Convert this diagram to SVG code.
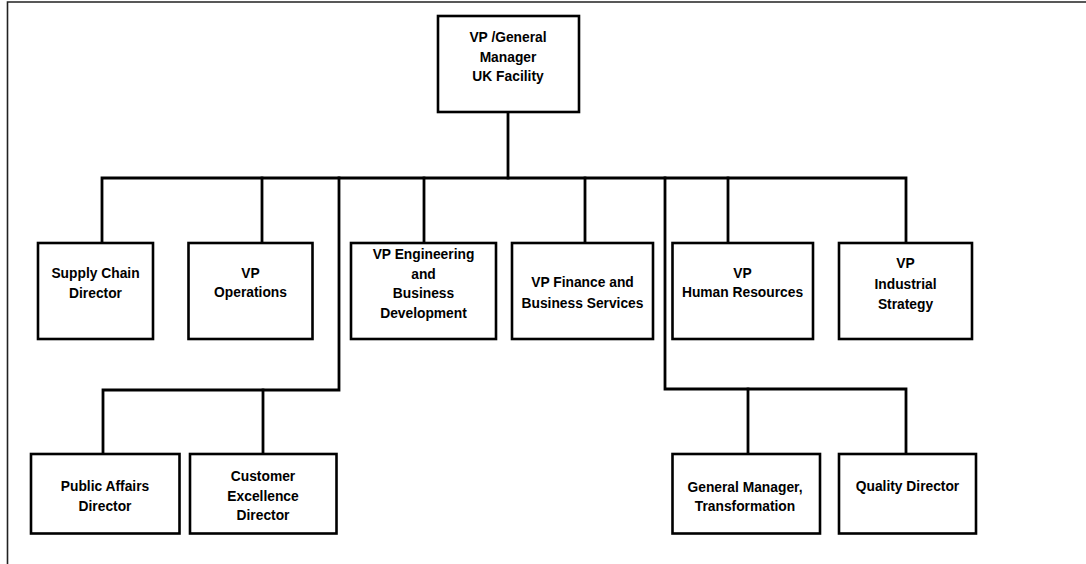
<svg xmlns="http://www.w3.org/2000/svg" width="1086" height="564" viewBox="0 0 1086 564">
  <style>
    .box { fill: #ffffff; stroke: #000000; stroke-width: 2.6; }
    .wire { fill: none; stroke: #000000; stroke-width: 2.8; stroke-linejoin: miter; stroke-linecap: square; }
    .frame { fill: none; stroke: #222222; stroke-width: 1.6; }
    text { font-family: "Liberation Sans", Arial, sans-serif; font-weight: bold; font-size: 13.8px; fill: #000000; text-anchor: middle; }
  </style>
  <rect width="1086" height="564" fill="#ffffff"/>

  <!-- page frame (left and top edges) -->
  <path class="frame" d="M7.5,564 V2 H1086"/>

  <!-- reporting lines -->
  <g id="connectors">
    <path class="wire" d="M508,112 V178"/>
    <path class="wire" d="M102,243 V178 H906 V243"/>
    <path class="wire" d="M262,178 V243"/>
    <path class="wire" d="M424,178 V243"/>
    <path class="wire" d="M585,178 V243"/>
    <path class="wire" d="M728,178 V243"/>
    <path class="wire" d="M339,178 V390 H103 V454"/>
    <path class="wire" d="M263,390 V454"/>
    <path class="wire" d="M665,178 V389 H906 V454"/>
    <path class="wire" d="M748,389 V454"/>
  </g>

  <g id="vp-general-manager">
    <rect class="box" x="438" y="16" width="141" height="96"/>
    <text x="508" y="42">VP /General</text>
    <text x="508" y="62">Manager</text>
    <text x="508" y="81">UK Facility</text>
  </g>

  <g id="supply-chain-director">
    <rect class="box" x="38" y="243" width="115" height="96"/>
    <text x="95.5" y="278">Supply Chain</text>
    <text x="95.5" y="298">Director</text>
  </g>

  <g id="vp-operations">
    <rect class="box" x="188.5" y="243" width="124" height="96"/>
    <text x="250.5" y="278">VP</text>
    <text x="250.5" y="297">Operations</text>
  </g>

  <g id="vp-engineering">
    <rect class="box" x="351" y="243" width="145" height="96"/>
    <text x="423.5" y="259">VP Engineering</text>
    <text x="423.5" y="279">and</text>
    <text x="423.5" y="298">Business</text>
    <text x="423.5" y="318">Development</text>
  </g>

  <g id="vp-finance">
    <rect class="box" x="512" y="243" width="141" height="96"/>
    <text x="582.5" y="287">VP Finance and</text>
    <text x="582.5" y="308">Business Services</text>
  </g>

  <g id="vp-human-resources">
    <rect class="box" x="672.5" y="243" width="140.5" height="96"/>
    <text x="742.5" y="278">VP</text>
    <text x="742.5" y="297">Human Resources</text>
  </g>

  <g id="vp-industrial-strategy">
    <rect class="box" x="839" y="243" width="133" height="96"/>
    <text x="905.5" y="268">VP</text>
    <text x="905.5" y="288.5">Industrial</text>
    <text x="905.5" y="308.5">Strategy</text>
  </g>

  <g id="public-affairs-director">
    <rect class="box" x="31" y="454" width="148.5" height="79.5"/>
    <text x="105" y="491">Public Affairs</text>
    <text x="105" y="511">Director</text>
  </g>

  <g id="customer-excellence-director">
    <rect class="box" x="190" y="454" width="146.5" height="79.5"/>
    <text x="263" y="481">Customer</text>
    <text x="263" y="501">Excellence</text>
    <text x="263" y="520">Director</text>
  </g>

  <g id="gm-transformation">
    <rect class="box" x="672.5" y="454" width="147.5" height="79.5"/>
    <text x="745" y="492">General Manager,</text>
    <text x="745" y="511">Transformation</text>
  </g>

  <g id="quality-director">
    <rect class="box" x="839" y="454" width="137" height="79.5"/>
    <text x="907.5" y="491">Quality Director</text>
  </g>
</svg>
